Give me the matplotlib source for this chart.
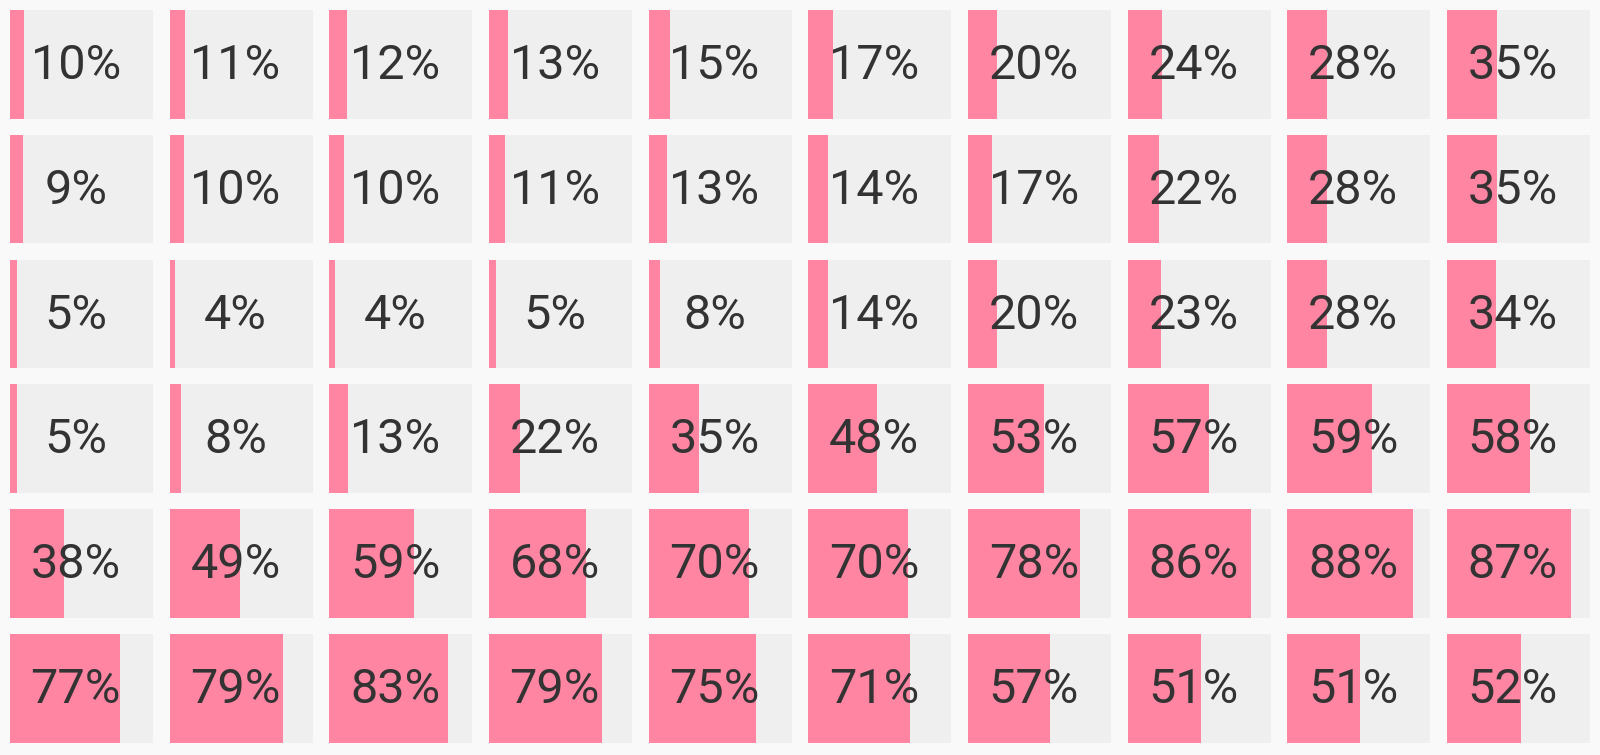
import matplotlib.pyplot as plt

# 每一列的百分比數值 (6 列 x 10 欄)
row1 = [10, 11, 12, 13, 15, 17, 20, 24, 28, 35]
row2 = [9, 10, 10, 11, 13, 14, 17, 22, 28, 35]
row3 = [5, 4, 4, 5, 8, 14, 20, 23, 28, 34]
row4 = [5, 8, 13, 22, 35, 48, 53, 57, 59, 58]
row5 = [38, 49, 59, 68, 70, 70, 78, 86, 88, 87]
row6 = [77, 79, 83, 79, 75, 71, 57, 51, 51, 52]
rows = [row1, row2, row3, row4, row5, row6]

plt.rcParams['font.family'] = ['Roboto', 'DejaVu Sans']

bg = '#f9f9f9'
cell = '#efefef'
pink = '#ff85a3'
txt = '#333333'

fig, axes = plt.subplots(6, 10, figsize=(16, 7.55), dpi=100)
fig.patch.set_facecolor(bg)
fig.subplots_adjust(left=10 / 1600, right=1590 / 1600,
                    bottom=12.5 / 755, top=1 - 10 / 755,
                    wspace=16.8 / 143, hspace=16.3 / 108.5)

for r, vals in enumerate(rows):
    for c, v in enumerate(vals):
        ax = axes[r, c]
        ax.set_facecolor(cell)
        ax.barh(0.5, v, height=1, color=pink, linewidth=0)
        ax.text(46, 0.364, f'{v}%', ha='center', va='baseline',
                fontsize=35, color=txt)
        ax.set_xlim(0, 100)
        ax.set_ylim(0, 1)
        ax.set_xticks([])
        ax.set_yticks([])
        for s in ax.spines.values():
            s.set_visible(False)

fig.savefig('out.png', dpi=100, facecolor=bg)
